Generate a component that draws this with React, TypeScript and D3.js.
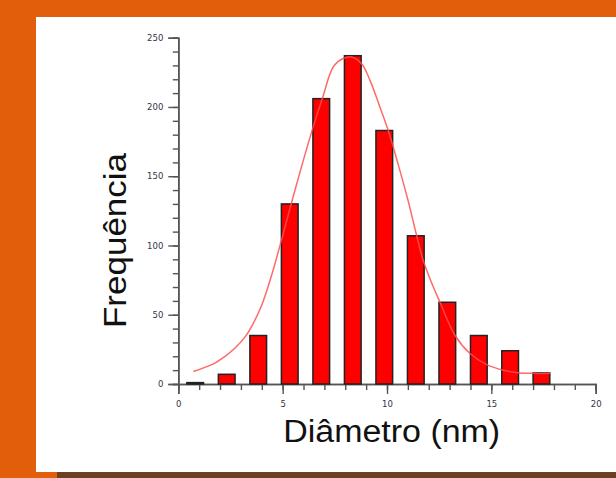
import React, { useEffect, useRef } from 'react';
import * as d3 from 'd3';

// histogram bins (left edge, nm) and counts
const binStarts = [0.41, 1.92, 3.43, 4.94, 6.45, 7.96, 9.47, 10.98, 12.49, 14.0, 15.5, 17.0];
const counts = [1, 7, 35, 130, 206, 237, 183, 107, 59, 35, 24, 8];
const binWidth = 0.8;

// fitted distribution curve
const fitX = [0.72, 1.68, 2.24, 2.72, 3.2, 3.6, 4.0, 4.5, 5.0, 5.5, 6.0, 6.47, 6.92, 7.43, 7.9, 8.31, 8.79, 9.19, 9.66, 10.06, 10.47, 11.0, 11.39, 11.74, 12.22, 12.54, 13.26, 13.98, 14.78, 15.58, 16.37, 17.0, 17.85];
const fitY = [9, 14.5, 20, 26, 34, 44, 57, 80, 107, 135, 162, 186, 207, 229, 235, 236, 231, 219, 200, 183, 162, 133, 109, 89, 70, 59, 35, 22, 14, 10, 8, 7.7, 7.7];

const xMajor = [0, 5, 10, 15, 20];
const yMajor = [0, 50, 100, 150, 200, 250];

const W = 616;
const H = 478;

const App = () => {
    const ref = useRef<SVGSVGElement>(null);

    useEffect(() => {
        if (!ref.current) return;
        const svg = d3.select(ref.current);
        svg.selectAll("*").remove();

        // backdrop
        svg.append("rect").attr("width", W).attr("height", H).attr("fill", "#e25e0a");
        svg.append("rect").attr("x", 36).attr("y", 17).attr("width", W - 36).attr("height", 455).attr("fill", "#ffffff");
        svg.append("rect").attr("x", 57).attr("y", 472).attr("width", W - 57).attr("height", 6).attr("fill", "#6b3f1f");

        const x = d3.scaleLinear().domain([0, 20]).range([178.3, 595.7]);
        const y = d3.scaleLinear().domain([0, 250]).range([384, 37.7]);

        const tickFont = "'DejaVu Sans', Verdana, sans-serif";

        // x axis
        const gx = svg.append("g").attr("transform", `translate(0,${y(0)})`);
        gx.call(d3.axisBottom(x).tickValues(d3.range(0, 21, 1)).tickSize(6).tickFormat(() => ""));
        gx.append("g").call(d3.axisBottom(x).tickValues(xMajor).tickSize(10).tickPadding(7).tickFormat(d3.format("d")));
        gx.selectAll(".domain").attr("stroke", "#555").attr("stroke-width", 1.6);
        gx.selectAll(".tick line").attr("stroke", "#555").attr("stroke-width", 1.4);
        gx.selectAll(".tick text").attr("fill", "#333348").attr("font-family", tickFont).attr("font-size", 8.5);

        // y axis
        const gy = svg.append("g").attr("transform", `translate(${x(0)},0)`);
        gy.call(d3.axisLeft(y).tickValues(d3.range(0, 251, 10)).tickSize(5.5).tickFormat(() => ""));
        gy.append("g").call(d3.axisLeft(y).tickValues(yMajor).tickSize(10).tickPadding(5).tickFormat(d3.format("d")));
        gy.selectAll(".domain").attr("stroke", "#555").attr("stroke-width", 1.6);
        gy.selectAll(".tick line").attr("stroke", "#555").attr("stroke-width", 1.4);
        gy.selectAll(".tick text").attr("fill", "#333348").attr("font-family", tickFont).attr("font-size", 8.5);

        // bars
        svg.append("g")
            .selectAll("rect")
            .data(binStarts.map((s, i) => ({ s, c: counts[i] })))
            .join("rect")
            .attr("x", d => x(d.s))
            .attr("y", d => y(d.c))
            .attr("width", d => x(d.s + binWidth) - x(d.s))
            .attr("height", d => y(0) - y(d.c))
            .attr("fill", "#ff0000")
            .attr("stroke", "#222")
            .attr("stroke-width", 1.5);

        // fit curve
        const line = d3.line<number>()
            .x((d, i) => x(fitX[i]))
            .y(d => y(d))
            .curve(d3.curveCatmullRom);

        svg.append("path")
            .datum(fitY)
            .attr("fill", "none")
            .attr("stroke", "#ff5050")
            .attr("stroke-opacity", 0.85)
            .attr("stroke-width", 1.5)
            .attr("d", line);

        // axis titles
        svg.append("text")
            .attr("x", 391.7)
            .attr("y", 442)
            .attr("text-anchor", "middle")
            .attr("font-family", "'Liberation Sans', Arial, sans-serif")
            .attr("font-size", 31)
            .attr("textLength", 217)
            .attr("lengthAdjust", "spacingAndGlyphs")
            .attr("fill", "#111")
            .text("Diâmetro (nm)");

        svg.append("text")
            .attr("transform", "translate(126,240.5) rotate(-90)")
            .attr("text-anchor", "middle")
            .attr("font-family", "'Liberation Sans', Arial, sans-serif")
            .attr("font-size", 31)
            .attr("textLength", 175)
            .attr("lengthAdjust", "spacingAndGlyphs")
            .attr("fill", "#111")
            .text("Frequência");
    }, []);

    return (
        <svg
            ref={ref}
            width={W}
            height={H}
            style={{ position: "absolute", left: 0, top: 0, display: "block" }}
        />
    );
};

export default App;
